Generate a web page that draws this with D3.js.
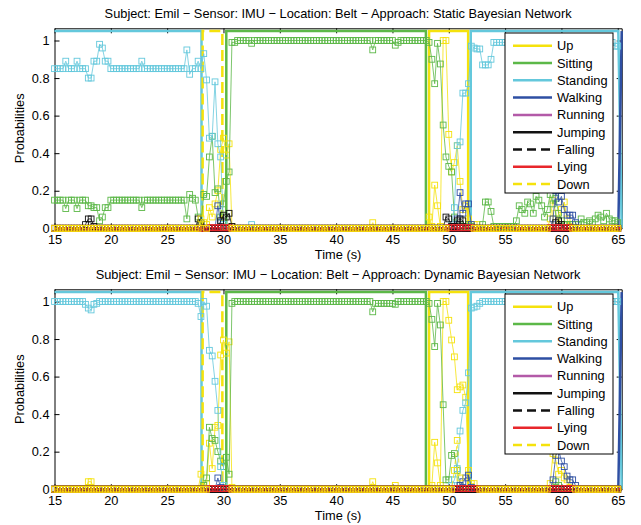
<!DOCTYPE html>
<html>
<head>
<meta charset="utf-8">
<script src="https://cdn.jsdelivr.net/npm/d3@7"></script>
<style>
  body { margin: 0; background: #fff; }
  svg { display: block; }
  text { font-family: "Liberation Sans", Arial, sans-serif; fill: #000; }
</style>
</head>
<body>
<div id="chart"></div>
<script>
// activity classes, in legend order
var classes = ["Up", "Sitting", "Standing", "Walking", "Running", "Jumping", "Falling", "Lying", "Down"];
var colors = ["#f5e20c", "#5cb848", "#64c8dc", "#2e4fa3", "#b35aa8", "#111111", "#111111", "#e8262b", "#f5e20c"];
var dashed = [false, false, false, false, false, false, true, false, true];

var xTicks = [15, 20, 25, 30, 35, 40, 45, 50, 55, 60, 65];
var yTicks = [0, 0.2, 0.4, 0.6, 0.8, 1];

// samples every 0.25 s from 15 s to 65 s (201 samples)
var tStart = 15, tStep = 0.25, nSamples = 201;

// ground truth, [time, value] (same for both plots)
var truthUp       = [[15, 0], [48.25, 0], [48.25, 1.05], [51.72, 1.05], [51.72, 0], [65.35, 0]];
var truthSitting  = [[15, 0], [30.25, 0], [30.25, 1.05], [47.97, 1.05], [47.97, 0], [65.35, 0]];
var truthStanding = [[15, 1.05], [28.05, 1.05], [28.05, 0], [51.95, 0], [51.95, 1.05], [65.05, 1.05], [65.35, 0]];
var truthWalking  = [[15, 0], [65.05, 0], [65.35, 1.05]];
var truthRunning  = [[15, 0], [65.35, 0]];
var truthJumping  = [[15, 0], [65.35, 0]];
var truthFalling  = [[15, 0], [65.35, 0]];
var truthLying    = [[15, 0], [65.35, 0]];
var truthDown     = [[15, 0], [28.15, 0], [28.15, 1.05], [29.9, 1.05], [29.9, 0], [65.35, 0]];

// estimated probabilities, one value per sample; [v, n] = v repeated n times, null = not shown
var staticUp = [[0,54],0.02,0.11,0.06,0.13,0.20,0.42,0.48,0.39,0.45,0.01,[0,49],0.03,[0,19],
  0.06,0.01,0.23,0.12,0.01,1.0,1.0,0.50,0.30,0.35,0.44,0.25,0.10,0.12,0.05,0.01,0.02,0.02,[0,25],
  0.05,0.15,0.08,0.02,0.10,0.14,0.05,0.01,[0,17]];
var staticSitting = [[0.15,4],0.105,[0.15,3],0.105,[0.15,3],0.12,0.12,0.11,0.11,0.04,0.06,0.11,0.11,
  [0.15,11],0.11,[0.15,15],0.05,0.18,0.16,0.15,0.06,0.02,0.18,0.17,0.38,0.49,0.19,0.21,0.06,0.13,0.25,0.30,
  0.99,0.99,[1,5],0.985,[1,42],0.95,[1,7],0.975,0.99,[1,10],
  0.99,0.90,0.77,0.985,0.875,0.55,0.38,0.33,0.30,0.06,0.02,0.02,0.01,0.01,0.02,0.01,0,0,0,
  0.02,0.14,0.14,0.09,[0.01,8],0.04,0.12,0.10,0.08,0.14,0.13,0.08,0.17,0.15,0.12,0.06,0.10,0.18,0.13,0.16,0.08,0.04,0.02,
  [0.02,5],0.05,0.03,0.03,0.04,0.03,0.05,0.07,0.06,0.04,0.08,0.05,0.04,0.04,0.03];
var staticStanding = [[0.85,4],0.89,[0.85,3],0.89,[0.85,3],0.80,0.80,0.89,0.89,0.98,0.96,0.89,0.89,
  [0.85,11],0.89,[0.85,15],0.95,0.82,0.85,0.85,0.89,0.85,0.93,0.79,0.48,0.49,0.78,0.45,0.38,0.02,
  [0,9],0.02,[0,70],0.02,0.11,0.44,0.46,0.72,0.72,0.77,0.97,0.96,0.955,0.955,0.87,0.87,0.87,0.90,[0.99,43],0.97,0.97];
var staticWalking = [[0,58],0.12,0.03,[0,83],0.05,0.19,0.08,0.13,0.13,0.02,[0,28],
  0.05,0.20,0.14,0.17,0.10,0.07,0.07,0.07,0.03,[0,15]];
var staticRunning = [[0,201]];
var staticJumping = [[0,11],0.02,0.05,0.05,0.01,[0,36],0.05,0.03,[0,6],0.04,0.07,0.06,0.08,0.01,[0,75],
  0.06,0.05,0.01,0.01,0.04,0.05,0.04,[0,32],0.03,0.04,0.02,[0,20]];
var staticFalling = [[0,201]];
var staticLying = [[0,55],[0.003,8],[0,77],[0.003,9],[0,27],[0.003,8],[0,17]];
var staticDown = [[0,52],0.05,0.03,0,[null,8],[0,77],[null,9],[0,27],[null,8],[0,17]];

var dynamicUp = [[0,12],0.04,0.04,[0,38],0.08,0.02,0.03,0.245,0.11,0.33,0.34,0.715,0.795,0.725,0.785,0.01,
  [0,49],0.04,[0,7],0.02,[0,12],0.02,0.25,0.14,0.02,1.0,1.0,0.90,0.795,0.705,0.53,0.545,0.555,0.49,0.10,0.03,0.03,
  [0,26],0.03,0.19,0.155,0.08,0.10,0.06,0.05,0.01,[0,17]];
var dynamicSitting = [[0,53],0.02,0.06,0.33,0.27,0.26,0.20,0.15,0.12,0.17,0.08,0.99,[1,49],0.945,[0.99,7],0.985,[1,11],
  0.99,0.905,0.76,0.99,0.875,0.45,0.05,0.05,0.18,0.19,0.10,0.02,[0,33],0.04,0.02,[0,21]];
var dynamicStanding = [[1,11],0.985,0.965,0.955,0.985,0.99,[1,35],0.99,0.92,1.0,0.975,0.74,0.71,0.575,0.42,0.12,0.02,
  [0,80],0.02,0.05,0.11,0.31,0.42,0.46,0.62,0.965,0.97,0.975,0.99,[1,49]];
var dynamicWalking = [[0,58],0.06,0.01,[0,84],0.02,0.04,0.06,0.075,0.01,[0,28],
  0.05,0.18,0.21,0.15,0.12,0.07,0.05,0.05,0.02,[0,15]];
var dynamicRunning = [[0,201]];
var dynamicJumping = [[0,201]];
var dynamicFalling = [[0,201]];
var dynamicLying = [[0,55],[0.003,8],[0,79],[0.003,9],[0,25],[0.003,9],[0,16]];
var dynamicDown = [[0,55],[null,8],[0,79],0.10,0.26,0.06,[null,6],[0,25],[null,9],[0,16]];

var truths = [truthUp, truthSitting, truthStanding, truthWalking, truthRunning, truthJumping, truthFalling, truthLying, truthDown];

var plots = [
  { title: "Subject: Emil \u2212 Sensor: IMU \u2212 Location: Belt \u2212 Approach: Static Bayesian Network",
    top: 28.3, bottom: 228.3,
    series: [staticUp, staticSitting, staticStanding, staticWalking, staticRunning, staticJumping, staticFalling, staticLying, staticDown] },
  { title: "Subject: Emil \u2212 Sensor: IMU \u2212 Location: Belt \u2212 Approach: Dynamic Bayesian Network",
    top: 289.3, bottom: 489.2,
    series: [dynamicUp, dynamicSitting, dynamicStanding, dynamicWalking, dynamicRunning, dynamicJumping, dynamicFalling, dynamicLying, dynamicDown] }
];

function expand(runs) {
  var out = [];
  runs.forEach(function (r) {
    if (Array.isArray(r)) { for (var k = 0; k < r[1]; k++) out.push(r[0]); }
    else out.push(r);
  });
  if (out.length !== nSamples) console.warn("series length", out.length);
  return out.map(function (v, i) { return [tStart + i * tStep, v]; });
}

var width = 641, height = 525;
var left = 54.5, right = 621.7;
var fontSize = "12.8px";

var svg = d3.select("#chart").append("svg")
  .attr("width", width)
  .attr("height", height);

var x = d3.scaleLinear().domain([15, 65.35]).range([left, right]);

plots.forEach(function (p) {
  var y = d3.scaleLinear().domain([0, 1.065]).range([p.bottom, p.top]);
  var g = svg.append("g");

  // axes (MATLAB style box, ticks inside)
  var axB = g.append("g").attr("transform", "translate(0," + p.bottom + ")")
    .call(d3.axisBottom(x).tickValues(xTicks).tickSizeInner(-5).tickSizeOuter(0).tickPadding(7));
  var axT = g.append("g").attr("transform", "translate(0," + p.top + ")")
    .call(d3.axisTop(x).tickValues(xTicks).tickSizeInner(-5).tickSizeOuter(0).tickFormat(""));
  var axL = g.append("g").attr("transform", "translate(" + left + ",0)")
    .call(d3.axisLeft(y).tickValues(yTicks).tickSizeInner(-5).tickSizeOuter(0).tickPadding(5)
      .tickFormat(function (d) { return String(d); }));
  var axR = g.append("g").attr("transform", "translate(" + right + ",0)")
    .call(d3.axisRight(y).tickValues(yTicks).tickSizeInner(-5).tickSizeOuter(0).tickFormat(""));
  [axB, axT, axL, axR].forEach(function (a) {
    a.selectAll("path, line").attr("stroke", "#000").attr("stroke-width", 1);
    a.selectAll("text").style("font-size", fontSize).attr("fill", "#000");
  });

  var line = d3.line()
    .defined(function (d) { return d[1] !== null; })
    .x(function (d) { return x(d[0]); })
    .y(function (d) { return y(d[1]); });

  // ground truth (thick)
  truths.forEach(function (tr, c) {
    g.append("path").datum(tr)
      .attr("d", line)
      .attr("fill", "none")
      .attr("stroke", colors[c])
      .attr("stroke-width", 2.5)
      .attr("stroke-dasharray", dashed[c] ? "11,5" : null);
  });

  // estimated probabilities (thin, square markers)
  p.series.forEach(function (s, c) {
    var pts = expand(s);
    g.append("path").datum(pts)
      .attr("d", line)
      .attr("fill", "none")
      .attr("stroke", colors[c])
      .attr("stroke-width", 0.8)
      .attr("stroke-dasharray", dashed[c] ? "4,3" : null);
    g.append("g").selectAll("rect")
      .data(pts.filter(function (d) { return d[1] !== null; }))
      .enter().append("rect")
      .attr("x", function (d) { return x(d[0]) - 2.9; })
      .attr("y", function (d) { return y(d[1]) - 2.9; })
      .attr("width", 5.8)
      .attr("height", 5.8)
      .attr("fill", "none")
      .attr("stroke", colors[c])
      .attr("stroke-width", 0.9);
  });

  // titles and labels
  svg.append("text")
    .attr("x", (left + right) / 2).attr("y", p.top - 10.5)
    .attr("text-anchor", "middle")
    .style("font-size", fontSize)
    .text(p.title);
  svg.append("text")
    .attr("x", (left + right) / 2).attr("y", p.bottom + 31)
    .attr("text-anchor", "middle")
    .style("font-size", fontSize)
    .text("Time (s)");
  svg.append("text")
    .attr("transform", "translate(24," + ((p.top + p.bottom) / 2) + ") rotate(-90)")
    .attr("text-anchor", "middle")
    .style("font-size", fontSize)
    .text("Probabilities");

  // legend
  var lg = svg.append("g").attr("transform", "translate(505," + (p.top + 4.7) + ")");
  lg.append("rect").attr("width", 108).attr("height", 160)
    .attr("fill", "#fff").attr("stroke", "#000").attr("stroke-width", 1);
  classes.forEach(function (name, c) {
    var ly = 12.7 + c * 17.3;
    lg.append("line").attr("x1", 8).attr("x2", 47).attr("y1", ly).attr("y2", ly)
      .attr("stroke", colors[c]).attr("stroke-width", 2.5)
      .attr("stroke-dasharray", dashed[c] ? "9,5" : null);
    lg.append("text").attr("x", 52).attr("y", ly + 4.5)
      .style("font-size", fontSize)
      .text(name);
  });
});
</script>
</body>
</html>
